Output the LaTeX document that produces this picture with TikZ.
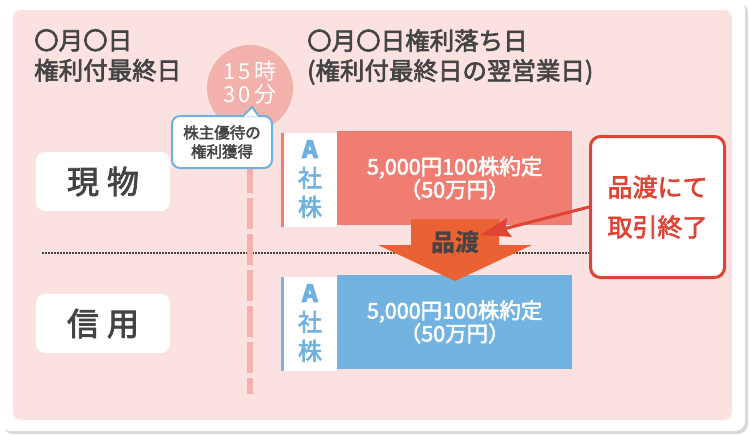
\documentclass[tikz,border=0pt]{standalone}
\usepackage{fontspec}
\setmainfont{Noto Sans CJK JP}
\newfontfamily\medfont{Noto Sans CJK JP}[FakeBold=2.5]
\usetikzlibrary{arrows.meta}

\definecolor{panelpink}{HTML}{FCE1E1}
\definecolor{timepink}{HTML}{F2B1AB}
\definecolor{spotred}{HTML}{F07D72}
\definecolor{creditblue}{HTML}{72B3E2}
\definecolor{tickblue}{HTML}{6EB0E0}
\definecolor{handorange}{HTML}{EA6133}
\definecolor{endred}{HTML}{DE4333}
\definecolor{inkgrey}{HTML}{444444}

\tikzset{
  head/.style={anchor=north west, align=left, inner sep=0pt, text=inkgrey,
    font=\medfont\fontsize{24.5}{30}\selectfont},
  kindbox/.style={fill=white, rounded corners=9pt, minimum width=134pt,
    minimum height=59pt, text=inkgrey, font=\medfont\fontsize{32}{32}\selectfont},
  bubble/.style={draw=tickblue, line width=2pt, fill=white, rounded corners=8pt,
    minimum width=100pt, minimum height=52pt, align=center, inner sep=0pt,
    text=inkgrey, font=\medfont\fontsize{15.5}{19}\selectfont},
  deal/.style={anchor=west, minimum width=235pt, minimum height=94pt, inner sep=0pt,
    align=center, text=white, font=\medfont\fontsize{21.5}{23}\selectfont},
  ticker/.style={align=center, inner sep=0pt, text=tickblue,
    font=\medfont\fontsize{24}{29}\selectfont},
  endbox/.style={draw=endred, line width=3pt, fill=white, rounded corners=10pt,
    minimum width=134pt, minimum height=141pt, align=center, text=endred,
    font=\medfont\fontsize{25}{40}\selectfont},
}

\begin{document}
\begin{tikzpicture}[x=1pt, y=-1pt]
  \useasboundingbox (0,0) rectangle (750,434);
  % 台紙
  \fill[black!15, rounded corners=10pt] (3,3) rectangle (748,434);
  \fill[white, rounded corners=10pt] (0,0) rectangle (745,431);
  \fill[panelpink, rounded corners=8pt] (13,10) rectangle (732,420);
  % 見出し
  \node[head] (lastday) at (34,29) {〇月〇日\\権利付最終日};
  \node[head] (exday) at (307,29) {〇月〇日権利落ち日\\(権利付最終日の翌営業日)};
  % 区切り
  \coordinate (sep left) at (42,253);
  \coordinate (sep right) at (590,253);
  \draw[inkgrey, line width=1.5pt, dash pattern=on 1.5pt off 1.5pt] (sep left) -- (sep right);
  \coordinate (line top) at (250,162);
  \coordinate (line end) at (250,394);
  \draw[timepink, line width=6pt, dash pattern=on 31pt off 5pt] (line top) -- (line end);
  % 時刻と吹き出し
  \node[circle, fill=timepink, minimum size=86pt, inner sep=0pt] (time) at (250,88) {};
  \node[align=center, text=white, inner sep=0pt, font=\fontsize{22}{23}\selectfont]
    (clock) at (250,83) {1\hspace{3pt}5\hspace{3pt}時\\3\hspace{3pt}0\hspace{3pt}分};
  \node[bubble] (perk) at (222,142) {株主優待の\\権利獲得};
  \coordinate (perk tip) at (252,107);
  \fill[white] ([xshift=22pt,yshift=-1.5pt]perk.north) -- (perk tip) -- ([xshift=36pt,yshift=-1.5pt]perk.north) -- cycle;
  \draw[tickblue, line width=2pt, line join=round] ([xshift=22pt]perk.north) -- (perk tip) -- ([xshift=36pt]perk.north);
  % 現物・信用
  \node[kindbox] (spot) at (103,181.5) {現\hspace{8pt}物};
  \node[kindbox] (credit) at (103,323.5) {信\hspace{8pt}用};
  % 約定の箱
  \foreach \y/\c/\n in {180/spotred/spot, 324/creditblue/credit} {
    \fill[white] (282,\y-47) rectangle (337,\y+47);
    \fill[\c] (281,\y-47) rectangle (284,\y+47);
    \node[ticker] (tick-\n) at (310,\y-1) {\textbf{A}\\社\\株};
    \node[deal, fill=\c] (deal-\n) at (337,\y-2) {5,000円100株約定\\（50万円）};
  }
  % 品渡の矢印
  \fill[handorange] (411,219) -- (499,219) -- (499,245) -- (532,245) -- (455,281)
    -- (378,245) -- (411,245) -- cycle;
  \node[text=inkgrey, inner sep=1pt, font=\bfseries\fontsize{24}{24}\selectfont] (hand) at (455,242) {品渡};
  % 取引終了
  \node[endbox] (finish) at (657.5,207) {品渡にて\\取引終了};
  \draw[endred, line width=3pt, -{Stealth[length=30pt, width=19pt, inset=4pt]}]
    (finish.west) -- ([yshift=7pt]hand.east);
\end{tikzpicture}
\end{document}
